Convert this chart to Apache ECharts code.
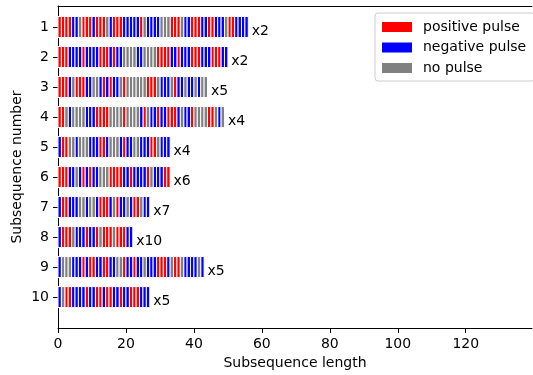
<!DOCTYPE html>
<html><head><meta charset="utf-8">
<script src="https://cdn.jsdelivr.net/npm/echarts@6/dist/echarts.min.js"></script>
<style>html,body{margin:0;padding:0;background:#fff}#c{width:533px;height:375px}</style>
</head><body><div id="c"></div>
<script>
// ---- data ----
const subsequenceNumbers = [1, 2, 3, 4, 5, 6, 7, 8, 9, 10];
// R = positive pulse, B = negative pulse, G = no pulse (one unit per letter)
const sequences = [
  "RRRRBBGRRRBRRRGBRRRBBBBBRGBBBBGGGRRRGBBRRRBBRRBBBGRRBBBB",
  "RRRBBBBRBBBBRRRBRBBGGGGBBGGGGRRRRBBRBBBRRRBBBRRRBB",
  "RRRBGRRRBBGGBRBRBBGRGGGGGGRRRGBBBGRBBGBBGBGG",
  "RRGBGGGGBBBRRRRGGGGRGGGGBRGBBRBBRRRBGBBRGGGGRRGBG",
  "BRRGGBGGGBBBRRBGGGBRBBGGBBBRRGBBB",
  "RRRBBGBRBRBBGGGRRRRBBRBBBBRGBBBRR",
  "BRRBBBGGBGGBRRRBGRBBGBRRGBB",
  "BRRRGBBBRBBRGRRRGRRRBB",
  "BGGGBBBRBRRBBRRBBGGRBBRBBGBBBRRRBGRRGBBBBGB",
  "BGRRBBBBRBBRRBRRBBRBBRRRBBB"
];
const repeatCounts = [2, 2, 5, 4, 4, 6, 7, 10, 5, 5];
const pulseKinds = ["positive pulse", "negative pulse", "no pulse"];
const pulseCodes = ["R", "B", "G"];
const pulseColors = ["#ff0000", "#0000ff", "#808080"];
const xTicks = [0, 20, 40, 60, 80, 100, 120];
const xMax = 139.5;

// ---- chart ----
const FONT = "DejaVu Sans";
const chart = echarts.init(document.getElementById("c"), null, {renderer: "canvas"});

function segData(code) {
  const out = [];
  sequences.forEach((s, i) => {
    for (let k = 0; k < s.length; k++) if (s[k] === code) out.push([k, k + 1, subsequenceNumbers[i]]);
  });
  return out;
}

const series = pulseKinds.map((name, j) => ({
  name: name,
  type: "custom",
  itemStyle: {color: pulseColors[j]},
  encode: {x: [0, 1], y: 2},
  data: segData(pulseCodes[j]),
  silent: true,
  renderItem: function (params, api) {
    const a = api.coord([api.value(0), api.value(2)]);
    const b = api.coord([api.value(1), api.value(2)]);
    const h = api.size([0, 0.7])[1];
    return {
      type: "rect",
      shape: {x: a[0], y: a[1] - h / 2, width: b[0] - a[0], height: h},
      style: {fill: pulseColors[j], stroke: "#ffffff", lineWidth: 1}
    };
  }
}));

series.push({
  name: "counts",
  type: "custom",
  silent: true,
  encode: {x: 0, y: 1},
  data: sequences.map((s, i) => [s.length, subsequenceNumbers[i], repeatCounts[i]]),
  renderItem: function (params, api) {
    const p = api.coord([api.value(0) + 1, api.value(1) + 0.15]);
    return {
      type: "text",
      x: p[0], y: p[1],
      style: {text: "x" + api.value(2), fill: "#000", fontSize: 14, fontFamily: FONT,
              align: "left", verticalAlign: "middle"}
    };
  }
});

const axisText = {color: "#000", fontSize: 14, fontFamily: FONT};

chart.setOption({
  animation: false,
  backgroundColor: "#fff",
  grid: {left: 58, right: 1, top: 6, bottom: 47, containLabel: false, outerBoundsMode: "none"},
  legend: {
    data: pulseKinds.map((n, j) => ({name: n, icon: "rect", itemStyle: {color: pulseColors[j]}})),
    orient: "vertical",
    left: 375, top: 13,
    itemWidth: 30, itemHeight: 10, itemGap: 6.5,
    padding: [7, 8, 6, 7],
    borderColor: "#cccccc", borderWidth: 1, borderRadius: 3,
    backgroundColor: "#fff",
    textStyle: {color: "#000", fontSize: 14, fontFamily: FONT, padding: [0, 0, 0, 6]},
    selectedMode: false
  },
  xAxis: [{
    type: "value", min: 0, max: xMax,
    name: "Subsequence length", nameLocation: "middle", nameGap: 28, nameMoveOverlap: false,
    nameTextStyle: axisText,
    axisLine: {show: true, onZero: false, lineStyle: {color: "#000", width: 1}},
    axisTick: {show: true, length: 5, lineStyle: {color: "#000"}, customValues: xTicks},
    axisLabel: Object.assign({margin: 9, customValues: xTicks}, axisText),
    splitLine: {show: false}
  }, {
    type: "value", min: 0, max: xMax, position: "top",
    axisLine: {show: true, onZero: false, lineStyle: {color: "#000", width: 1}},
    axisTick: {show: false}, axisLabel: {show: false}, splitLine: {show: false}
  }],
  yAxis: {
    type: "value", inverse: true, min: 0.3, max: 11.03,
    name: "Subsequence number", nameLocation: "middle", nameGap: 34, nameRotate: 90,
    nameMoveOverlap: false,
    nameTextStyle: axisText,
    axisLine: {show: true, onZero: false, lineStyle: {color: "#000", width: 1}},
    axisTick: {show: true, length: 5, lineStyle: {color: "#000"}, customValues: subsequenceNumbers},
    axisLabel: Object.assign({margin: 9, customValues: subsequenceNumbers}, axisText),
    splitLine: {show: false}
  },
  series: series
});
</script>
</body></html>
